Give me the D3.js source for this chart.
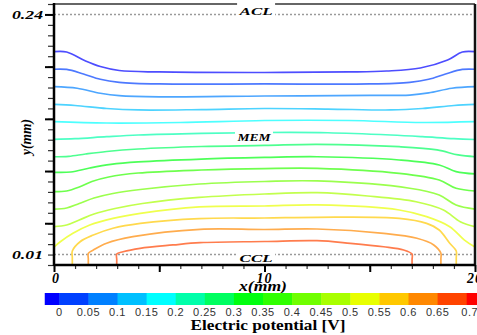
<!DOCTYPE html>
<html>
<head>
<meta charset="utf-8">
<script src="https://cdn.jsdelivr.net/npm/d3@7"></script>
<style>
    body { margin: 0; background: #fff; }
    svg { display: block; font-family: "Liberation Serif", "Times New Roman", serif; }
</style>
</head>
<body>
<div id="chart"></div>
<script>
// iso-potential lines, top (ACL side) to bottom (CCL side); [x (mm), y (mm)]
const line01 = [[0,.2043],[0.6,.2040],[1.5,.1954],[2.2,.1901],[3.1,.1863],[5,.1849],[10,.1844],[14,.1849],[15.8,.1858],[17.4,.1887],[18.7,.1964],[19.4,.2040],[20,.2043]];
const line02 = [[0,.1875],[0.6,.1873],[1.4,.1830],[2.2,.1779],[3.1,.1750],[5,.1734],[10,.1734],[15,.1734],[16.9,.1750],[17.8,.1779],[18.6,.1830],[19.4,.1873],[20,.1875]];
const line03 = [[0,.1708],[1.1,.1693],[2.2,.1645],[3.1,.1622],[5,.1611],[10,.1619],[15,.1624],[16.9,.1628],[17.8,.1648],[18.9,.1693],[20,.1708]];
const line04 = [[0,.1539],[1,.1528],[2.5,.1499],[4,.1485],[7,.1489],[10,.1499],[13,.1494],[16,.1485],[17.5,.1499],[19,.1528],[20,.1539]];
const line05 = [[0,.1373],[2.5,.1360],[6,.1365],[10,.1384],[14,.1384],[17.5,.1365],[20,.1373]];
const line06 = [[0,.1204],[1,.1210],[2.5,.1229],[4,.1245],[7,.1261],[10,.1269],[13,.1267],[16,.1245],[17.5,.1229],[19,.1210],[20,.1202]];
const line07 = [[0,.1037],[0.7,.1041],[1.5,.1063],[2.5,.1087],[4,.1111],[7,.1135],[10,.1145],[12.5,.1156],[16.4,.1133],[18.2,.1102],[19.2,.1054],[20,.1037]];
const line08 = [[0,.0888],[0.8,.0891],[1.7,.0929],[2.7,.0963],[4,.0987],[7,.1015],[10,.1030],[12.5,.1037],[16.4,.1006],[18.3,.0958],[19.1,.0894],[20,.0872]];
const line09 = [[0,.0702],[0.6,.0709],[1.2,.0747],[1.8,.0800],[2.6,.0843],[4,.0881],[7,.0910],[10,.0924],[12.5,.0926],[16.4,.0878],[18.3,.0814],[19.1,.0735],[20,.0709]];
const line10 = [[0,.0536],[0.6,.0546],[1.2,.0589],[1.9,.0642],[2.8,.0685],[4.1,.0723],[6.9,.0776],[10,.0800],[12.5,.0805],[16.9,.0735],[18.3,.0670],[19.1,.0575],[20,.0536]];
const line11 = [[0,.0367],[0.6,.0383],[1.2,.0431],[1.9,.0489],[2.9,.0541],[4.2,.0589],[6.9,.0647],[10,.0680],[12.5,.0693],[14.9,.0661],[17.2,.0606],[18.5,.0527],[19.3,.0415],[20,.0367]];
const line12 = [[0,.0172],[0.3,.0223],[0.9,.0304],[1.7,.0383],[2.8,.0447],[4.1,.0495],[6.9,.0556],[10,.0565],[12.5,.0575],[16.4,.0527],[17.7,.0463],[18.8,.0367],[19.5,.0239],[20,.0172]];
const line13 = [[0.87,0],[0.87,.0070],[0.87,.0134],[1.24,.0223],[1.87,.0287],[2.8,.0352],[4.1,.0399],[6.9,.0445],[10,.0450],[12.5,.0457],[16.4,.0447],[17.7,.0399],[18.3,.0335],[18.8,.0208],[19.11,.0134],[19.11,.0070],[19.11,0]];
const line14 = [[1.63,0],[1.63,.0060],[1.63,.0112],[1.87,.0144],[2.5,.0208],[3.75,.0271],[6.94,.0342],[10,.0340],[12.49,.0345],[15.66,.0303],[17.24,.0256],[18.04,.0192],[18.38,.0112],[18.38,.0060],[18.38,0]];
const line15 = [[2.98,0],[2.98,.0055],[2.98,.0105],[3.28,.0127],[4.09,.0160],[5.65,.0192],[6.94,.0214],[10,.0225],[12.49,.0233],[14.08,.0208],[15.66,.0175],[16.61,.0144],[17.01,.0105],[17.01,.0055],[17.01,0]];

const isoLines = [line01, line02, line03, line04, line05, line06, line07, line08,
                  line09, line10, line11, line12, line13, line14, line15];

// colour bar: one colour per 0.05 V band (first = below 0, last = above 0.7)
const barColors = ["#0000ff", "#0040ff", "#0080ff", "#00c0ff", "#00ffff", "#00ffaa",
                   "#00ff60", "#00ff10", "#30ff00", "#70ff00", "#a8ff00", "#e8ff00",
                   "#ffc800", "#ff8800", "#ff4400", "#ff0000"];
const barTicks = [0, 0.05, 0.1, 0.15, 0.2, 0.25, 0.3, 0.35, 0.4, 0.45, 0.5, 0.55, 0.6, 0.65, 0.7];

const xMinor = d3.range(0, 21, 1);
const xMajor = [0, 5, 10, 15, 20];
const xLabels = [0, 10, 20];
const yMinor = d3.range(0, 0.2501, 0.01);
const yMajor = [0.04, 0.09, 0.14, 0.19, 0.24];
const yLabels = [0.01, 0.24];

const layers = [
    { name: "ACL", y: 0.24, x: 9.6 },
    { name: "MEM", y: 0.1269, x: 9.5 },
    { name: "CCL", y: 0.01, x: 9.6 }
];

const W = 477, H = 335;
const svg = d3.select("#chart").append("svg")
    .attr("width", W)
    .attr("height", H);

const x = d3.scaleLinear().domain([0, 20]).range([54, 475]);
const y = d3.scaleLinear().domain([0, 0.25]).range([265, 4]);

svg.append("clipPath").attr("id", "plotClip")
    .append("rect")
    .attr("x", x(0)).attr("y", y(0.25))
    .attr("width", x(20) - x(0)).attr("height", y(0) - y(0.25));

const plot = svg.append("g").attr("clip-path", "url(#plotClip)");

// dashed layer boundaries
plot.selectAll(".layer-line")
    .data(layers.filter(d => d.name !== "MEM"))
    .enter().append("line")
    .attr("class", "layer-line")
    .attr("x1", x(0)).attr("x2", x(20))
    .attr("y1", d => y(d.y)).attr("y2", d => y(d.y))
    .attr("stroke", "#9a9a9a")
    .attr("stroke-width", 1.5)
    .attr("stroke-dasharray", "2,2");

const lineGen = d3.line()
    .x(d => x(d[0]))
    .y(d => y(d[1]))
    .curve(d3.curveCatmullRom.alpha(0.5));

plot.selectAll(".iso")
    .data(isoLines)
    .enter().append("path")
    .attr("class", "iso")
    .attr("d", lineGen)
    .attr("fill", "none")
    .attr("stroke", (d, i) => d3.interpolateRgb(barColors[i], "#ffffff")(0.3))
    .attr("stroke-width", 1.7);

// frame
svg.append("line")
    .attr("x1", x(0)).attr("x2", x(20))
    .attr("y1", y(0.25)).attr("y2", y(0.25))
    .attr("stroke", "#333").attr("stroke-width", 1.5);
svg.append("line")
    .attr("x1", x(20)).attr("x2", x(20))
    .attr("y1", y(0.25)).attr("y2", y(0))
    .attr("stroke", "#111").attr("stroke-width", 2.5);

// layer labels with white boxes
const lab = svg.selectAll(".layer-label")
    .data(layers)
    .enter().append("g")
    .attr("class", "layer-label");

lab.append("rect")
    .attr("x", d => x(d.x) - 19)
    .attr("y", d => d.name === "ACL" ? y(d.y) - 13 : y(d.y) - 5)
    .attr("width", 38)
    .attr("height", d => d.name === "ACL" ? 15 : 13)
    .attr("fill", "#fff");

lab.append("text")
    .attr("x", d => x(d.x))
    .attr("y", d => d.name === "ACL" ? y(d.y) + 1 : d.name === "MEM" ? y(d.y) + 8 : y(d.y) + 7)
    .attr("text-anchor", "middle")
    .attr("textLength", 33)
    .attr("lengthAdjust", "spacingAndGlyphs")
    .style("font-size", "11px")
    .style("font-weight", "bold")
    .style("font-style", "italic")
    .text(d => d.name);

// axes
const yMinorAxis = d3.axisLeft(y).tickValues(yMinor).tickSize(6).tickFormat("");
const yMajorAxis = d3.axisLeft(y).tickValues(yMajor).tickSize(9).tickFormat("");
const xMinorAxis = d3.axisBottom(x).tickValues(xMinor).tickSize(4).tickFormat("");
const xMajorAxis = d3.axisBottom(x).tickValues(xMajor).tickSize(7).tickFormat("");

const gyMinor = svg.append("g").attr("transform", `translate(${x(0)},0)`).call(yMinorAxis);
const gyMajor = svg.append("g").attr("transform", `translate(${x(0)},0)`).call(yMajorAxis);
const gxMinor = svg.append("g").attr("transform", `translate(0,${y(0)})`).call(xMinorAxis);
const gxMajor = svg.append("g").attr("transform", `translate(0,${y(0)})`).call(xMajorAxis);

[gyMinor, gxMinor].forEach(g => {
    g.select(".domain").remove();
    g.selectAll(".tick line").attr("stroke", "#333").attr("stroke-width", 1.2);
});
[gyMajor, gxMajor].forEach(g => {
    g.select(".domain").remove();
    g.selectAll(".tick line").attr("stroke", "#000").attr("stroke-width", 2);
});

// axis lines
svg.append("line")
    .attr("x1", x(0)).attr("x2", x(0))
    .attr("y1", y(0.25) - 1).attr("y2", y(0) + 1)
    .attr("stroke", "#000").attr("stroke-width", 2.5);
svg.append("line")
    .attr("x1", x(0)).attr("x2", x(20))
    .attr("y1", y(0)).attr("y2", y(0))
    .attr("stroke", "#000").attr("stroke-width", 2.5);

// tick labels
svg.selectAll(".ylab")
    .data(yLabels)
    .enter().append("text")
    .attr("class", "ylab")
    .attr("x", 43)
    .attr("y", d => y(d) + 4.5)
    .attr("text-anchor", "end")
    .attr("textLength", 31)
    .attr("lengthAdjust", "spacingAndGlyphs")
    .style("font-size", "13px")
    .style("font-weight", "bold")
    .style("font-style", "italic")
    .text(d => d.toFixed(2));

svg.selectAll(".xlab")
    .data(xLabels)
    .enter().append("text")
    .attr("class", "xlab")
    .attr("x", d => x(d) + (d === 0 ? 2 : 0))
    .attr("y", 283)
    .attr("text-anchor", "middle")
    .style("font-size", "14px")
    .style("font-weight", "bold")
    .style("font-style", "italic")
    .style("letter-spacing", "1px")
    .text(d => d);

svg.append("text")
    .attr("x", 263)
    .attr("y", 291)
    .attr("text-anchor", "middle")
    .attr("textLength", 48)
    .attr("lengthAdjust", "spacingAndGlyphs")
    .style("font-size", "14px")
    .style("font-weight", "bold")
    .style("font-style", "italic")
    .text("x(mm)");

svg.append("text")
    .attr("transform", "translate(31,137) rotate(-90)")
    .attr("text-anchor", "middle")
    .attr("textLength", 36)
    .attr("lengthAdjust", "spacingAndGlyphs")
    .style("font-size", "14px")
    .style("font-weight", "bold")
    .style("font-style", "italic")
    .text("y(mm)");

// colour bar
const cb = d3.scaleLinear().domain([0, 0.7]).range([59.3, 466.7]);
const bands = barColors.map((c, i) => ({ lo: (i - 1) * 0.05, hi: i * 0.05, color: c }));
bands[0].lo = -0.025;

svg.selectAll(".band")
    .data(bands)
    .enter().append("rect")
    .attr("class", "band")
    .attr("x", d => cb(d.lo))
    .attr("y", 293)
    .attr("width", d => cb(d.hi) - cb(d.lo) + 0.5)
    .attr("height", 12)
    .attr("fill", d => d.color);

svg.selectAll(".cblab")
    .data(barTicks)
    .enter().append("text")
    .attr("class", "cblab")
    .attr("x", d => cb(d) + (d === 0.7 ? 3 : 0))
    .attr("y", 316)
    .attr("text-anchor", "middle")
    .style("font-family", "'Liberation Sans', Arial, sans-serif")
    .style("font-size", "11px")
    .style("fill", "#333")
    .style("letter-spacing", "0.5px")
    .text(d => d3.format("")(+d.toFixed(2)));

svg.append("text")
    .attr("x", 268)
    .attr("y", 330)
    .attr("text-anchor", "middle")
    .attr("textLength", 155)
    .attr("lengthAdjust", "spacingAndGlyphs")
    .style("font-size", "14px")
    .style("font-weight", "bold")
    .text("Electric potential [V]");
</script>
</body>
</html>
